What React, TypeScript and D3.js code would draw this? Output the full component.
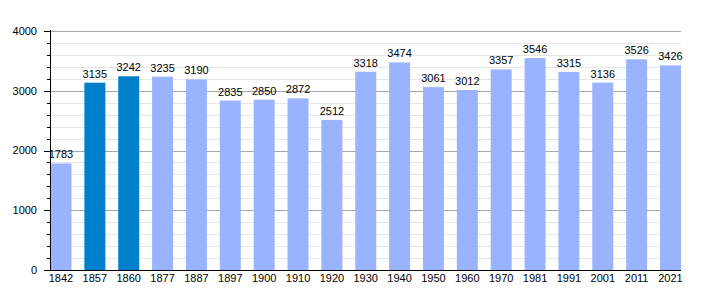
import React from "react";
import * as d3 from "d3";

const years = ["1842","1857","1860","1877","1887","1897","1900","1910","1920","1930","1940","1950","1960","1970","1981","1991","2001","2011","2021"];
const population = [1783,3135,3242,3235,3190,2835,2850,2872,2512,3318,3474,3061,3012,3357,3546,3315,3136,3526,3426];
const highlighted = ["1857","1860"];
const majorTicks = [0,1000,2000,3000,4000];
const minorTicks = d3.range(0, 4001, 200);

export default function App() {
  const W = 710, H = 300;
  const x = d3.scaleBand<string>().domain(years).range([50.5, 681]).paddingInner(0.38).paddingOuter(0);
  const y = d3.scaleLinear().domain([0, 4000]).range([270, 31]);
  const font = "'Liberation Sans', Arial, sans-serif";
  return (
    <svg width={W} height={H} style={{ position: "absolute", left: 0, top: 0 }}>
      <rect width={W} height={H} fill="#fff" />
      {minorTicks.filter(t => t % 1000 !== 0).map(t => (
        <g key={"m" + t}>
          <line x1={50} x2={681} y1={Math.round(y(t)) + 0.5} y2={Math.round(y(t)) + 0.5} stroke="#e6e6e6" />
          <line x1={47} x2={50} y1={Math.round(y(t)) + 0.5} y2={Math.round(y(t)) + 0.5} stroke="#000" />
        </g>
      ))}
      {majorTicks.map(t => (
        <g key={"M" + t}>
          {t > 0 && <line x1={50} x2={681} y1={Math.round(y(t)) + 0.5} y2={Math.round(y(t)) + 0.5} stroke="#a6a6a6" />}
          <line x1={44} x2={50} y1={Math.round(y(t)) + 0.5} y2={Math.round(y(t)) + 0.5} stroke="#000" />
          <text x={37} y={y(t)} dy="0.35em" textAnchor="end" fontFamily={font} fontSize={11} fill="#000">{t}</text>
        </g>
      ))}
      {years.map((yr, i) => (
        <g key={yr}>
          <rect x={x(yr)} y={y(population[i])} width={x.bandwidth()} height={y(0) - y(population[i])}
            fill={highlighted.includes(yr) ? "#0080cc" : "#99b3ff"} />
          <text x={(x(yr) as number) + x.bandwidth() / 2} y={y(population[i]) - 5} textAnchor="middle" fontFamily={font} fontSize={11} fill="#000">{population[i]}</text>
          <text x={(x(yr) as number) + x.bandwidth() / 2} y={282} textAnchor="middle" fontFamily={font} fontSize={11} fill="#000">{yr}</text>
        </g>
      ))}
      <line x1={50.5} x2={50.5} y1={30} y2={270} stroke="#000" />
      <line x1={44} x2={681} y1={270.5} y2={270.5} stroke="#000" />
    </svg>
  );
}
